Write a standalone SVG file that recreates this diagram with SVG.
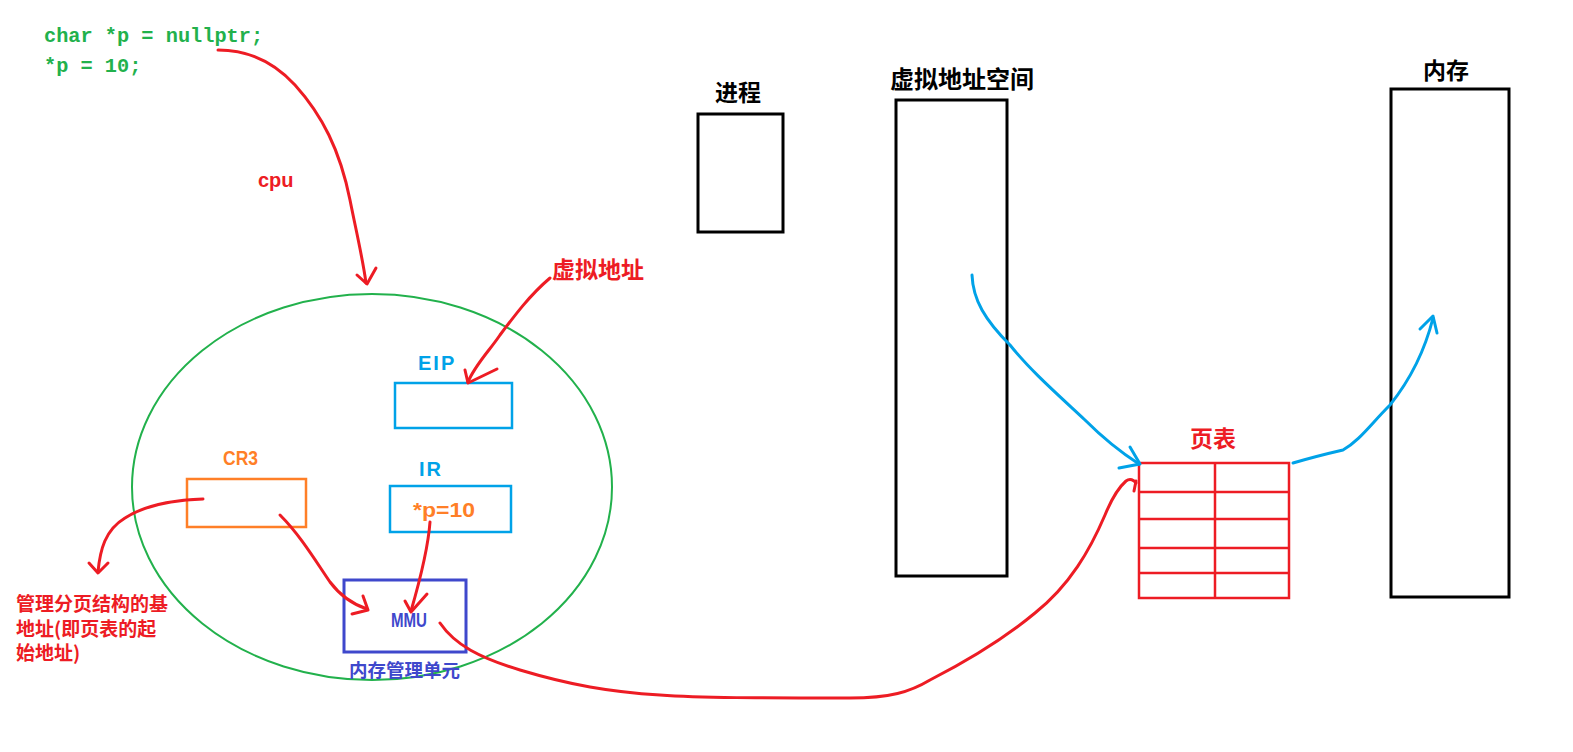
<svg xmlns="http://www.w3.org/2000/svg" width="1573" height="752" viewBox="0 0 1573 752">
<style>
.code{font-family:"Liberation Mono","DejaVu Sans Mono",monospace;font-weight:bold;font-size:20.3px;fill:#22b14c}
.cjk{font-family:"Noto Sans CJK SC","Liberation Sans",sans-serif;font-weight:bold}
.lat{font-family:"Liberation Sans",Arial,sans-serif;font-weight:bold}
.red{fill:#ed1c24}
.blk{fill:#000}
.bl{fill:#00a2e8}
.or{fill:#ff7f27}
.db{fill:#3f48cc}
.rs{fill:none;stroke:#ed1c24;stroke-width:3;stroke-linecap:round;stroke-linejoin:round}
.bs{fill:none;stroke:#00a2e8;stroke-width:3;stroke-linecap:round;stroke-linejoin:round}
.box{fill:none;stroke:#000;stroke-width:3}
</style>
<rect width="1573" height="752" fill="#fff"/>
<g id="code">
<text class="code" x="44" y="42">char *p = nullptr;</text>
<text class="code" x="44" y="72">*p = 10;</text>
</g>
<g id="cpu-label"><text class="lat red" x="258" y="187" font-size="20">cpu</text></g>
<g id="cpu"><ellipse cx="372" cy="487" rx="240" ry="193" fill="none" stroke="#22b14c" stroke-width="2"/></g>
<g id="vaddr-label"><text class="cjk red" x="552" y="278" font-size="23">虚拟地址</text></g>
<g id="eip">
<text class="lat bl" x="418" y="370" font-size="20" letter-spacing="2">EIP</text>
<rect x="395" y="383" width="117" height="45" fill="none" stroke="#00a2e8" stroke-width="2.5"/>
</g>
<g id="ir">
<text class="lat bl" x="419" y="476" font-size="20" letter-spacing="2">IR</text>
<rect x="390" y="486" width="121" height="46" fill="none" stroke="#00a2e8" stroke-width="2.5"/>
<text class="lat or" x="413" y="517" font-size="21" textLength="62" lengthAdjust="spacingAndGlyphs">*p=10</text>
</g>
<g id="cr3">
<text class="lat or" x="223" y="465" font-size="20" textLength="35" lengthAdjust="spacingAndGlyphs">CR3</text>
<rect x="187" y="479" width="119" height="48" fill="none" stroke="#ff7f27" stroke-width="2.5"/>
</g>
<g id="mmu">
<rect x="344" y="580" width="122" height="72" fill="none" stroke="#3f48cc" stroke-width="3"/>
<text class="lat db" x="391" y="627" font-size="21" textLength="36" lengthAdjust="spacingAndGlyphs">MMU</text>
<text class="cjk db" x="349" y="677" font-size="18.5">内存管理单元</text>
</g>
<g id="cr3-note">
<text class="cjk red" x="16" y="611" font-size="19">管理分页结构的基</text>
<text class="cjk red" x="16" y="636" font-size="19">地址(即页表的起</text>
<text class="cjk red" x="16" y="660" font-size="19">始地址)</text>
</g>
<g id="process">
<text class="cjk blk" x="715" y="101" font-size="23">进程</text>
<rect x="698" y="114" width="85" height="118" class="box"/>
</g>
<g id="vspace">
<text class="cjk blk" x="890" y="88" font-size="24">虚拟地址空间</text>
<rect x="896" y="100" width="111" height="476" class="box"/>
</g>
<g id="memory">
<text class="cjk blk" x="1423" y="79" font-size="23">内存</text>
<rect x="1391" y="89" width="118" height="508" class="box"/>
</g>
<g id="pagetable">
<text class="cjk red" x="1190" y="447" font-size="23">页表</text>
<g fill="none" stroke="#ed1c24" stroke-width="2.5">
<rect x="1139" y="463" width="150" height="135"/>
<path d="M1139 492H1289M1139 519H1289M1139 548H1289M1139 573H1289M1215 463V598"/>
</g>
</g>
<g id="connectors">
<path class="rs" d="M218 50 C245 50 272 60 295 85 C322 115 340 150 350 200 C357 235 363 260 366 283"/>
<path class="rs" d="M357 275 L367 284 L376 268"/>
<path class="rs" d="M550 278 C530 295 515 315 500 335 C490 350 475 365 468 382"/>
<path class="rs" d="M465 370 L468 383 L497 369"/>
<path class="rs" d="M203 499 C175 500 145 505 125 518 C105 530 100 550 98 572"/>
<path class="rs" d="M89 563 L98 573 L108 563"/>
<path class="rs" d="M280 515 C300 535 315 560 330 582 C342 598 355 605 367 609"/>
<path class="rs" d="M352 614 L368 610 L363 596"/>
<path class="rs" d="M430 522 C428 550 420 580 411 611"/>
<path class="rs" d="M405 601 L411 612 L427 594"/>
<path class="rs" d="M440 623 C455 645 480 658 520 670 C570 685 610 692 660 695 C700 698 760 698 850 698 C890 698 910 692 930 680 C965 662 1000 642 1035 613 C1070 585 1090 550 1105 515 C1112 498 1118 488 1126 481 C1130 478 1134 480 1136 483"/>
<path class="rs" d="M1136 481 L1134 491"/>
<path class="bs" d="M972 275 C973 300 985 320 1010 345 C1030 370 1055 392 1085 420 C1105 440 1125 455 1139 464"/>
<path class="bs" d="M1119 468 L1140 464 L1130 447"/>
<path class="bs" d="M1293 463 C1310 458 1330 453 1343 450 C1360 440 1370 425 1390 405 C1410 380 1425 350 1433 318"/>
<path class="bs" d="M1420 329 L1433 316 L1437 333"/>
</g>
</svg>
